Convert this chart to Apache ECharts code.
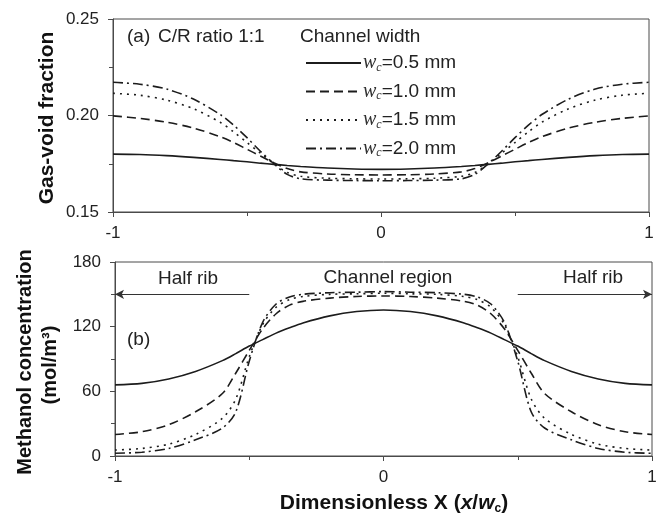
<!DOCTYPE html>
<html>
<head>
<meta charset="utf-8">
<script src="https://cdn.jsdelivr.net/npm/echarts@6/dist/echarts.min.js"></script>
<style>
  html, body { margin: 0; padding: 0; background: #fff; }
  #chart { width: 663px; height: 520px; }
</style>
</head>
<body>
<div id="chart"></div>
<script>
// x positions (dimensionless X = x / w_c)
const xs = [-1, -0.9, -0.8, -0.7, -0.6, -0.55, -0.5, -0.45, -0.4, -0.35, -0.3, -0.2, -0.1, 0,
  0.1, 0.2, 0.3, 0.35, 0.4, 0.45, 0.5, 0.55, 0.6, 0.7, 0.8, 0.9, 1]

// (a) gas-void fraction
const gas05 = [0.1800, 0.1798, 0.1792, 0.1783, 0.1772, 0.1766, 0.1760, 0.1753, 0.1747, 0.1741, 0.1736, 0.1728, 0.1723, 0.1721,
  0.1723, 0.1728, 0.1736, 0.1741, 0.1747, 0.1753, 0.1760, 0.1766, 0.1772, 0.1783, 0.1792, 0.1798, 0.1800]
const gas10 = [0.1998, 0.1985, 0.1965, 0.1935, 0.1890, 0.1860, 0.1825, 0.1790, 0.1755, 0.1725, 0.1708, 0.1697, 0.1693, 0.1692,
  0.1693, 0.1697, 0.1708, 0.1725, 0.1755, 0.1790, 0.1825, 0.1860, 0.1890, 0.1935, 0.1965, 0.1985, 0.1998]
const gas15 = [0.2115, 0.2105, 0.2080, 0.2035, 0.1965, 0.1915, 0.1860, 0.1805, 0.1750, 0.1705, 0.1685, 0.1675, 0.1672, 0.1671,
  0.1672, 0.1675, 0.1685, 0.1705, 0.1750, 0.1805, 0.1860, 0.1915, 0.1965, 0.2035, 0.2080, 0.2105, 0.2115]
const gas20 = [0.2172, 0.2162, 0.2137, 0.2085, 0.2005, 0.1950, 0.1885, 0.1815, 0.1750, 0.1695, 0.1672, 0.1665, 0.1663, 0.1662,
  0.1663, 0.1665, 0.1672, 0.1695, 0.1750, 0.1815, 0.1885, 0.1950, 0.2005, 0.2085, 0.2137, 0.2162, 0.2172]

// (b) methanol concentration, mol/m3
const conc05 = [66, 67.4, 71.5, 78.5, 88.5, 95, 102, 108, 114, 119, 123.5, 130, 134, 135.5,
  134, 130, 123.5, 119, 114, 108, 102, 95, 88.5, 78.5, 71.5, 67.4, 66]
const conc10 = [20, 22.5, 29, 41, 58, 77, 98, 118, 132, 140, 143.5, 146.5, 148, 148.5,
  148, 146.5, 143.5, 140, 132, 118, 98, 77, 58, 41, 29, 22.5, 20]
const conc15 = [5.5, 7, 11, 20, 35, 53, 92, 122, 138, 145, 148, 150, 150.5, 151,
  150.5, 150, 148, 145, 138, 122, 92, 53, 35, 20, 11, 7, 5.5]
const conc20 = [2.5, 3.5, 7, 15, 26, 41, 88, 124, 141, 147.5, 150, 151.5, 152, 152.5,
  152, 151.5, 150, 147.5, 141, 124, 88, 41, 26, 15, 7, 3.5, 2.5]

const widths = ['0.5', '1.0', '1.5', '2.0']
const dashes = ['solid', [9, 5], [2, 5], [10, 4, 2, 4]]

// rib arrows: [from, to] at concentration level
const ribArrows = [[-0.5, -1], [0.5, 1]]
const arrowLevel = 150

const FONT = '"Liberation Sans", Arial, sans-serif'
const INK = '#1c1c1c'
const AXIS = '#4a4a4a'

const chart = echarts.init(document.getElementById('chart'))

function pairs(ys) { return xs.map((x, i) => [x, ys[i]]) }

function xAxisCfg(idx) {
  return {
    type: 'value', gridIndex: idx, min: -1, max: 1, interval: 1,
    axisLine: { onZero: false, lineStyle: { color: AXIS, width: 1 } },
    axisTick: { length: 5, lineStyle: { color: AXIS } },
    minorTick: { show: true, splitNumber: 2, length: 4, lineStyle: { color: AXIS } },
    splitLine: { show: false },
    axisLabel: { fontFamily: FONT, fontSize: 17, color: '#222', margin: 13 }
  }
}

function yAxisCfg(idx, min, max, step, fmt) {
  return {
    type: 'value', gridIndex: idx, min: min, max: max, interval: step,
    axisLine: { show: true, onZero: false, lineStyle: { color: AXIS } },
    axisTick: { show: true, length: 5, lineStyle: { color: AXIS } },
    minorTick: { show: true, splitNumber: 2, length: 4, lineStyle: { color: AXIS } },
    splitLine: { show: false },
    axisLabel: { fontFamily: FONT, fontSize: 17, color: '#222', margin: 14, formatter: fmt }
  }
}

function makeSeries(arrs, prefix, axis) {
  return arrs.map((d, i) => ({
    name: prefix + widths[i], type: 'line', xAxisIndex: axis, yAxisIndex: axis,
    data: pairs(d), symbol: 'none', smooth: 0.3,
    itemStyle: { color: INK },
    lineStyle: { color: INK, width: 1.6, type: dashes[i] }
  }))
}

const gasSeries = makeSeries([gas05, gas10, gas15, gas20], 'w', 0)
const concSeries = makeSeries([conc05, conc10, conc15, conc20], 'b', 1)

// arrows for the half-rib regions
concSeries[0].markLine = {
  silent: true, symbol: ['none', 'arrow'], symbolSize: [7, 9],
  label: { show: false },
  lineStyle: { color: '#333', width: 1, type: 'solid' },
  data: ribArrows.map(a => [{ coord: [a[0], arrowLevel] }, { coord: [a[1], arrowLevel] }])
}

function txt(text, x, y, size, align) {
  return {
    type: 'text', x: x, y: y, silent: true,
    style: { text: text, font: size + 'px ' + FONT, fill: '#222',
      align: align, verticalAlign: 'middle', textAlign: align, textVerticalAlign: 'middle' }
  }
}

function boldRot(text, x, y, size) {
  return {
    type: 'text', x: x, y: y, rotation: Math.PI / 2, silent: true,
    style: { text: text, font: 'bold ' + size + 'px ' + FONT, fill: '#111',
      align: 'center', verticalAlign: 'middle', textAlign: 'center', textVerticalAlign: 'middle' }
  }
}

chart.setOption({
  backgroundColor: '#fff',
  animation: false,
  grid: [
    { left: 113, top: 19, width: 536, height: 193, show: true, borderColor: AXIS, borderWidth: 1 },
    { left: 115, top: 262, width: 537, height: 194, show: true, borderColor: AXIS, borderWidth: 1 }
  ],
  xAxis: [xAxisCfg(0), xAxisCfg(1)],
  yAxis: [
    yAxisCfg(0, 0.15, 0.25, 0.05, v => v.toFixed(2)),
    yAxisCfg(1, 0, 180, 60)
  ],
  legend: {
    data: gasSeries.map(s => s.name),
    orient: 'vertical', left: 300, top: 48,
    itemWidth: 55, itemHeight: 16, itemGap: 8,
    selectedMode: false,
    itemStyle: { opacity: 0 },
    formatter: name => '{w|w}{c|c}{t|=' + name.slice(1) + ' mm}',
    textStyle: {
      color: '#222', padding: [0, 0, 0, -3],
      rich: {
        w: { fontFamily: '"Liberation Serif", serif', fontStyle: 'italic', fontSize: 20, color: '#333' },
        c: { fontFamily: '"Liberation Serif", serif', fontStyle: 'italic', fontSize: 12, color: '#333', padding: [9, 0, 0, 0] },
        t: { fontFamily: FONT, fontSize: 19, color: '#222' }
      }
    }
  },
  graphic: [
    txt('(a)', 127, 37, 19, 'left'),
    txt('C/R ratio 1:1', 158, 37, 19, 'left'),
    txt('Channel width', 300, 37, 19, 'left'),
    txt('Half rib', 188, 279, 19, 'center'),
    txt('Channel region', 388, 278, 19, 'center'),
    txt('Half rib', 593, 278, 19, 'center'),
    txt('(b)', 127, 340, 19, 'left'),
    boldRot('Gas-void fraction', 47, 118, 21),
    boldRot('Methanol concentration', 25, 362, 20),
    boldRot('(mol/m\u00b3)', 50, 365, 20),
    {
      type: 'text', x: 394, y: 503, silent: true,
      style: {
        text: '{b|Dimensionless X (}{i|x}{b|/}{i|w}{s|c}{b|)}',
        align: 'center', verticalAlign: 'middle', textAlign: 'center', textVerticalAlign: 'middle',
        rich: {
          b: { font: 'bold 21px ' + FONT, fill: '#111', lineHeight: 24 },
          i: { font: 'italic bold 21px ' + FONT, fill: '#111', lineHeight: 24 },
          s: { font: 'bold 12px ' + FONT, fill: '#111', lineHeight: 12, verticalAlign: 'bottom' }
        }
      }
    }
  ],
  series: gasSeries.concat(concSeries)
})
</script>
</body>
</html>
